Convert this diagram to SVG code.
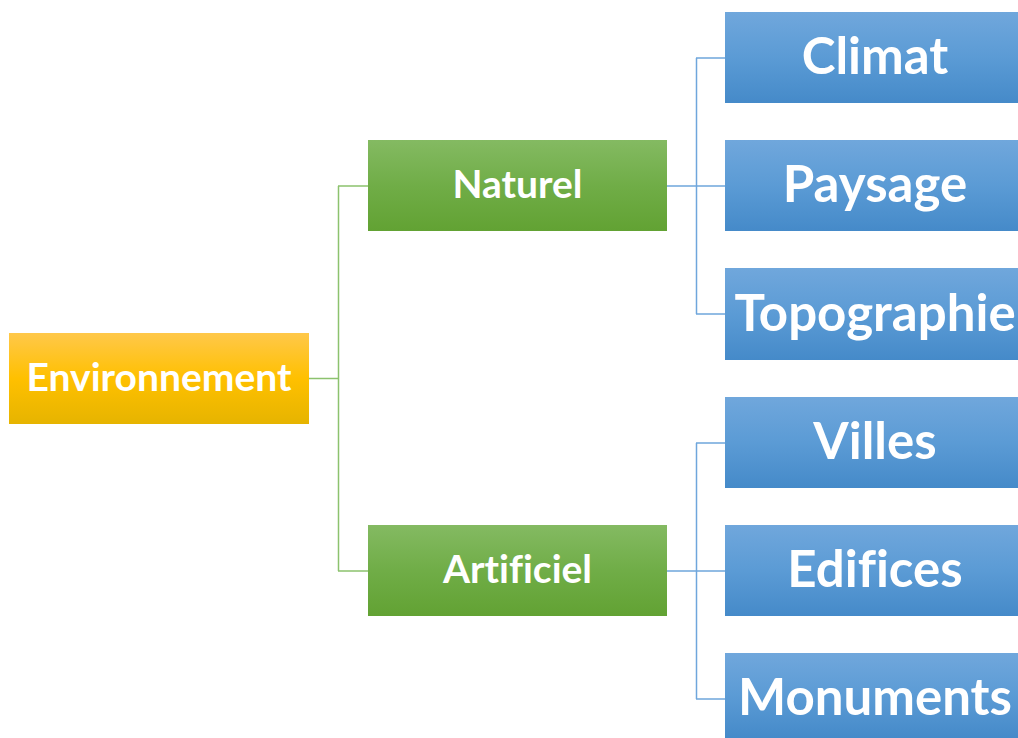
<svg xmlns="http://www.w3.org/2000/svg" width="1018" height="738" viewBox="0 0 1018 738">
<defs>
<linearGradient id="gOr" x1="0" y1="0" x2="0" y2="1"><stop offset="0" stop-color="#FFC84A"/><stop offset="0.5" stop-color="#FFC000"/><stop offset="1" stop-color="#E6B400"/></linearGradient>
<linearGradient id="gGr" x1="0" y1="0" x2="0" y2="1"><stop offset="0" stop-color="#84BA62"/><stop offset="0.5" stop-color="#70AD47"/><stop offset="1" stop-color="#62A233"/></linearGradient>
<linearGradient id="gBl" x1="0" y1="0" x2="0" y2="1"><stop offset="0" stop-color="#70A7DC"/><stop offset="0.5" stop-color="#5B9BD5"/><stop offset="1" stop-color="#458AC9"/></linearGradient>
</defs>
<style>
text{font-family:Lato,"Open Sans","Liberation Sans",sans-serif;font-weight:bold;fill:#fff;text-anchor:middle;font-variant-ligatures:none}
.s{font-size:39px}
.b{font-size:51px}
.gc{fill:none;stroke:#8CC26E;stroke-width:1.5}
.bc{fill:none;stroke:#6FA6DC;stroke-width:1.5}
</style>
<g id="connectors">
<path class="gc" d="M309 378.5H338M338.5 186V571M338 186H368M338 571H368"/>
<path class="bc" d="M667 186H725M696.5 58V314M696 58H725M696 314H725"/>
<path class="bc" d="M667 571H725M696.5 443V699M696 443H725M696 699H725"/>
</g>
<g id="environnement"><rect x="9" y="333" width="300" height="91" fill="url(#gOr)"/><text class="s" x="159" y="391">Environnement</text></g>
<g id="naturel"><rect x="368" y="140" width="299" height="91" fill="url(#gGr)"/><text class="s" x="517.5" y="198">Naturel</text></g>
<g id="artificiel"><rect x="368" y="525" width="299" height="91" fill="url(#gGr)"/><text class="s" x="517.5" y="583">Artificiel</text></g>
<g id="climat"><rect x="725" y="12" width="293" height="91" fill="url(#gBl)"/><text class="b" x="875" y="74">Climat</text></g>
<g id="paysage"><rect x="725" y="140" width="293" height="91" fill="url(#gBl)"/><text class="b" x="875" y="202">Paysage</text></g>
<g id="topographie"><rect x="725" y="268" width="293" height="92" fill="url(#gBl)"/><text class="b" x="875" y="331">Topographie</text></g>
<g id="villes"><rect x="725" y="397" width="293" height="91" fill="url(#gBl)"/><text class="b" x="875" y="459">Villes</text></g>
<g id="edifices"><rect x="725" y="525" width="293" height="91" fill="url(#gBl)"/><text class="b" x="875" y="587">Edifices</text></g>
<g id="monuments"><rect x="725" y="653" width="293" height="85" fill="url(#gBl)"/><text class="b" x="875" y="715">Monuments</text></g>
</svg>
